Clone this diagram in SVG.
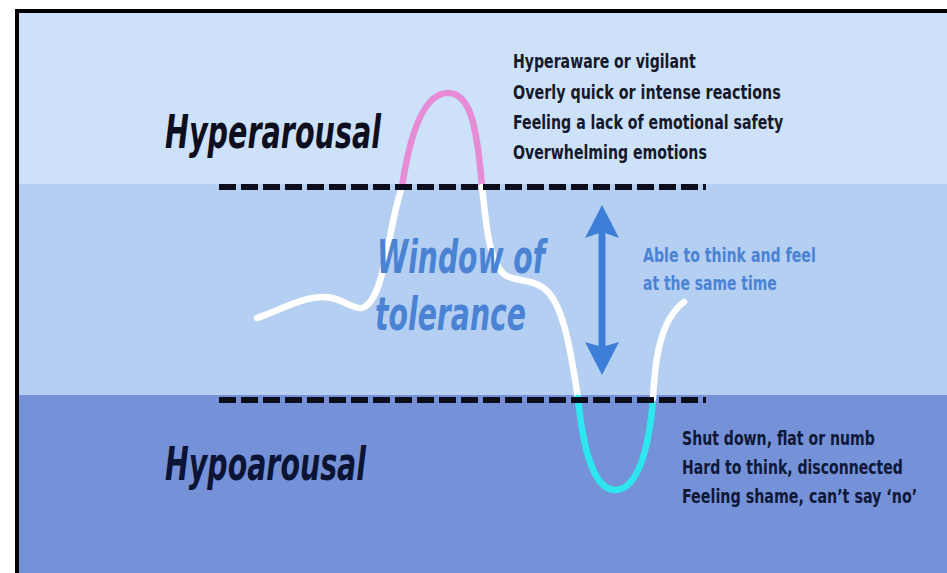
<svg xmlns="http://www.w3.org/2000/svg" width="947" height="573" viewBox="0 0 947 573">
  <style>
    .dash { stroke: #0b0d1c; stroke-width: 6; stroke-dasharray: 17 5; fill: none; }
    .curve { fill: none; stroke-width: 6.5; stroke-linecap: round; stroke-linejoin: round; }
    .head { font-family: 'Liberation Sans Narrow', 'DejaVu Sans Condensed', 'Liberation Sans', sans-serif; font-weight: bold; font-style: italic; font-size: 46px; }
    .body { font-family: 'Liberation Sans Narrow', 'DejaVu Sans Condensed', 'Liberation Sans', sans-serif; font-weight: bold; font-size: 20px; }
    .blue { fill: #4a82d4; }
  </style>
  <rect x="0" y="0" width="947" height="573" fill="#ffffff"/>
  <g id="bands">
    <rect x="17" y="11" width="930" height="174" fill="#cde2f8"/>
    <rect x="17" y="184" width="930" height="212" fill="#b4cff2"/>
    <rect x="17" y="395" width="930" height="178" fill="#7591d7"/>
  </g>
  <path id="frame" d="M17,575 L17,11 L950,11" fill="none" stroke="#000" stroke-width="4"/>

  <g id="wave">
    <path class="curve" stroke="#ffffff" d="M257,318 C280,310 300,298 322,297 C340,296 352,310 362,308 C372,305 378,290 383,270 C390,240 395,205 402,187"/>
    <path class="curve" stroke="#e68bd5" d="M402,187 C412,120 428,93 448,93 C470,93 477,125 482,187"/>
    <path class="curve" stroke="#ffffff" d="M482,187 C486,220 488,262 505,275 C515,282 535,278 548,292 C565,310 572,360 578,398"/>
    <path class="curve" stroke="#2ee6ef" d="M578,398 C582,440 592,490 615,490 C640,490 650,440 653,398"/>
    <path class="curve" stroke="#ffffff" d="M653,398 C655,360 660,320 684,302"/>
  </g>

  <g id="thresholds">
    <line class="dash" x1="219" y1="187" x2="706" y2="187"/>
    <line class="dash" x1="219" y1="400" x2="706" y2="400"/>
  </g>

  <g id="arrow" fill="#3d7fd8">
    <rect x="598.5" y="228" width="7" height="124"/>
    <path d="M602,205 L619,238 L602,232 L585,238 Z"/>
    <path d="M602,375 L619,342 L602,347 L585,342 Z"/>
  </g>

  <g id="hyperarousal">
    <text class="head" x="165" y="148" fill="#0d0f1e" textLength="216" lengthAdjust="spacingAndGlyphs">Hyperarousal</text>
    <g class="body" fill="#15192b" transform="translate(513,0) scale(0.85,1)">
      <text x="0" y="68" textLength="215" lengthAdjust="spacingAndGlyphs">Hyperaware or vigilant</text>
      <text x="0" y="99" textLength="315" lengthAdjust="spacingAndGlyphs">Overly quick or intense reactions</text>
      <text x="0" y="129" textLength="318" lengthAdjust="spacingAndGlyphs">Feeling a lack of emotional safety</text>
      <text x="0" y="159" textLength="228" lengthAdjust="spacingAndGlyphs">Overwhelming emotions</text>
    </g>
  </g>

  <g id="window">
    <text class="head blue" x="377" y="273" textLength="168" lengthAdjust="spacingAndGlyphs">Window of</text>
    <text class="head blue" x="375" y="330" textLength="151" lengthAdjust="spacingAndGlyphs">tolerance</text>
    <g class="body blue" font-size="22" transform="translate(643,0) scale(0.8,1)">
      <text x="0" y="262" textLength="216" lengthAdjust="spacingAndGlyphs">Able to think and feel</text>
      <text x="0" y="290" textLength="167" lengthAdjust="spacingAndGlyphs">at the same time</text>
    </g>
  </g>

  <g id="hypoarousal">
    <text class="head" x="165" y="480" fill="#0b1435" textLength="201" lengthAdjust="spacingAndGlyphs">Hypoarousal</text>
    <g class="body" fill="#0e1838" transform="translate(682,0) scale(0.8,1)">
      <text x="0" y="445" textLength="241" lengthAdjust="spacingAndGlyphs">Shut down, flat or numb</text>
      <text x="0" y="474" textLength="276" lengthAdjust="spacingAndGlyphs">Hard to think, disconnected</text>
      <text x="0" y="503" textLength="294" lengthAdjust="spacingAndGlyphs">Feeling shame, can’t say ‘no’</text>
    </g>
  </g>
</svg>
